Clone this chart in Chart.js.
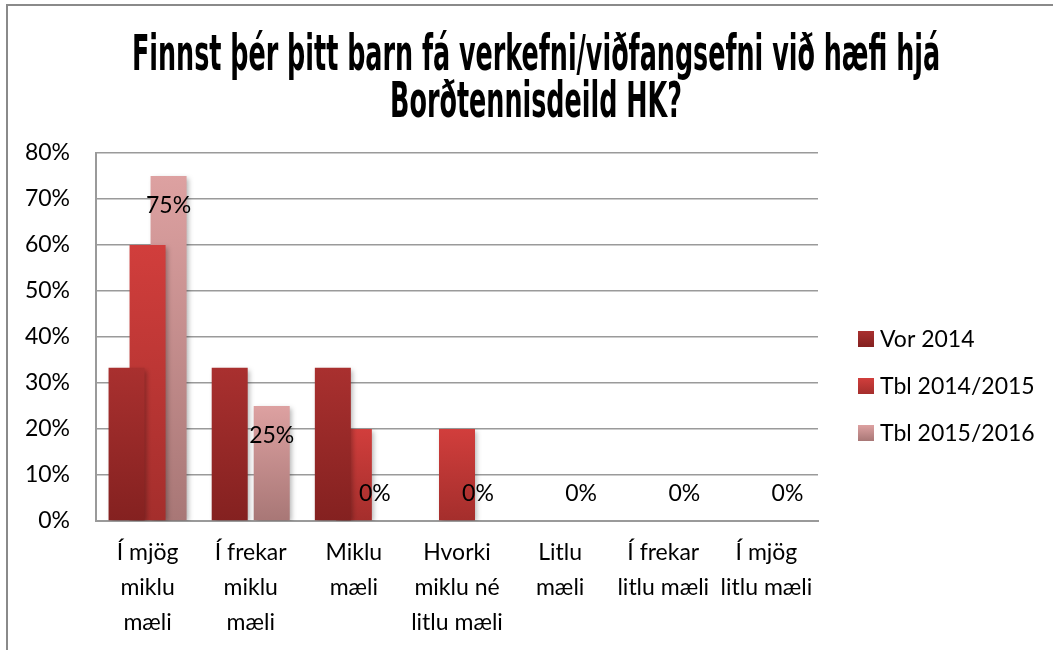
<!DOCTYPE html>
<html>
<head>
<meta charset="utf-8">
<script src="https://cdn.jsdelivr.net/npm/chart.js@4.4.1/dist/chart.umd.min.js"></script>
<style>
  html, body { margin: 0; padding: 0; background: #fff; }
  #wrap { position: relative; width: 1053px; height: 650px; }
</style>
</head>
<body>
<div id="wrap"><canvas id="surveyChart" width="1053" height="650"></canvas></div>
<script>
const titleLines = ['Finnst þér þitt barn fá verkefni/viðfangsefni við hæfi hjá', 'Borðtennisdeild HK?'];

const categories = [
  ['Í mjög', 'miklu', 'mæli'],
  ['Í frekar', 'miklu', 'mæli'],
  ['Miklu', 'mæli'],
  ['Hvorki', 'miklu né', 'litlu mæli'],
  ['Litlu', 'mæli'],
  ['Í frekar', 'litlu mæli'],
  ['Í mjög', 'litlu mæli']
];

const seriesNames = ['Vor 2014', 'Tbl 2014/2015', 'Tbl 2015/2016'];
const vor2014 = [33.3, 33.3, 33.3, 0, 0, 0, 0];
const tbl2014 = [60, 0, 20, 20, 0, 0, 0];
const tbl2015 = [75, 25, 0, 0, 0, 0, 0];

const yTicks = [0, 10, 20, 30, 40, 50, 60, 70, 80];

// top / bottom colours of each series gradient
const shades = [
  ['#a9302f', '#842120'],
  ['#d13e3c', '#a42e2c'],
  ['#dda1a1', '#a87776']
];

const FONT = 'Lato, "Open Sans", sans-serif';
const TEXT_SIZE = 23;

function barFill(top, bottom) {
  return (c) => {
    const chart = c.chart;
    const y = chart.scales && chart.scales.y;
    if (!chart.chartArea || !y || c.type !== 'data') return bottom;
    const v = c.raw || 0;
    const yTop = y.getPixelForValue(v);
    const yBase = y.getPixelForValue(0);
    if (yBase - yTop < 1) return bottom;
    const g = chart.ctx.createLinearGradient(0, yTop, 0, yBase);
    g.addColorStop(0, top);
    g.addColorStop(1, bottom);
    return g;
  };
}

const framePlugin = {
  id: 'frame',
  beforeDraw(chart) {
    const ctx = chart.ctx;
    ctx.save();
    ctx.fillStyle = '#fff';
    ctx.fillRect(0, 0, chart.width, chart.height);
    ctx.strokeStyle = '#8a8a8a';
    ctx.lineWidth = 2;
    ctx.beginPath();
    ctx.moveTo(7, chart.height);
    ctx.lineTo(7, 5);
    ctx.lineTo(chart.width, 5);
    ctx.stroke();

    // condensed heading
    ctx.fillStyle = '#000';
    ctx.font = 'bold 50px "Liberation Sans Narrow", "DejaVu Sans Condensed", sans-serif';
    ctx.textAlign = 'center';
    ctx.textBaseline = 'alphabetic';
    const baselines = [70, 117];
    titleLines.forEach((line, i) => {
      ctx.save();
      ctx.translate(536, baselines[i]);
      ctx.scale(0.565, 1);
      ctx.fillText(line, 0, 0);
      ctx.restore();
    });
    ctx.restore();
  }
};

const shadowPlugin = {
  id: 'barShadow',
  beforeDatasetsDraw(chart) {
    const ctx = chart.ctx;
    ctx.save();
    ctx.shadowColor = 'rgba(0,0,0,0.3)';
    ctx.shadowBlur = 5;
    ctx.shadowOffsetX = 2;
    ctx.shadowOffsetY = 2;
  },
  afterDatasetsDraw(chart) {
    chart.ctx.restore();
    // value labels on the last series
    const ctx = chart.ctx;
    const meta = chart.getDatasetMeta(2);
    ctx.save();
    ctx.fillStyle = '#000';
    ctx.font = TEXT_SIZE + 'px ' + FONT;
    ctx.textAlign = 'center';
    ctx.textBaseline = 'middle';
    meta.data.forEach((bar, i) => {
      const v = tbl2015[i];
      const y = v > 0 ? bar.y + 30 : bar.base - 27;
      ctx.fillText(Math.round(v) + '%', bar.x, y);
    });
    ctx.restore();
  }
};

const legendPlugin = {
  id: 'sideLegend',
  afterDraw(chart) {
    const ctx = chart.ctx;
    ctx.save();
    ctx.font = TEXT_SIZE + 'px ' + FONT;
    ctx.textBaseline = 'middle';
    ctx.textAlign = 'left';
    seriesNames.forEach((name, i) => {
      const cy = 339 + i * 47;
      const g = ctx.createLinearGradient(0, cy - 8, 0, cy + 8);
      g.addColorStop(0, shades[i][0]);
      g.addColorStop(1, shades[i][1]);
      ctx.fillStyle = g;
      ctx.fillRect(858, cy - 8, 16, 16);
      ctx.fillStyle = '#000';
      ctx.fillText(name, 880, cy + 1);
    });
    ctx.restore();
  }
};

const datasets = [vor2014, tbl2014, tbl2015].map((vals, i) => ({
  label: seriesNames[i],
  data: vals,
  backgroundColor: barFill(shades[i][0], shades[i][1]),
  borderWidth: 0,
  categoryPercentage: 0.611,
  barPercentage: 1.714
}));

new Chart(document.getElementById('surveyChart'), {
  type: 'bar',
  data: { labels: categories, datasets },
  plugins: [framePlugin, shadowPlugin, legendPlugin],
  options: {
    responsive: false,
    animation: false,
    layout: { padding: { top: 153, left: 7, right: 235, bottom: 0 } },
    plugins: {
      legend: { display: false },
      title: { display: false },
      tooltip: { enabled: false }
    },
    scales: {
      x: {
        grid: { display: false, drawTicks: false },
        border: { display: true, color: '#9a9a9a', width: 2 },
        ticks: {
          color: '#000',
          font: { family: FONT, size: TEXT_SIZE, lineHeight: 1.52 },
          padding: 14,
          autoSkip: false,
          maxRotation: 0
        },
        afterFit(scale) { scale.height = 129; }
      },
      y: {
        min: 0,
        max: 80,
        afterBuildTicks(scale) { scale.ticks = yTicks.map(v => ({ value: v })); },
        grid: { color: '#9a9a9a', lineWidth: 1.5, drawTicks: false },
        border: { display: true, color: '#9a9a9a', width: 2 },
        ticks: {
          color: '#000',
          font: { family: FONT, size: TEXT_SIZE },
          padding: 26,
          callback: v => v + '%'
        },
        afterFit(scale) { scale.width = 89; }
      }
    }
  }
});
</script>
</body>
</html>
